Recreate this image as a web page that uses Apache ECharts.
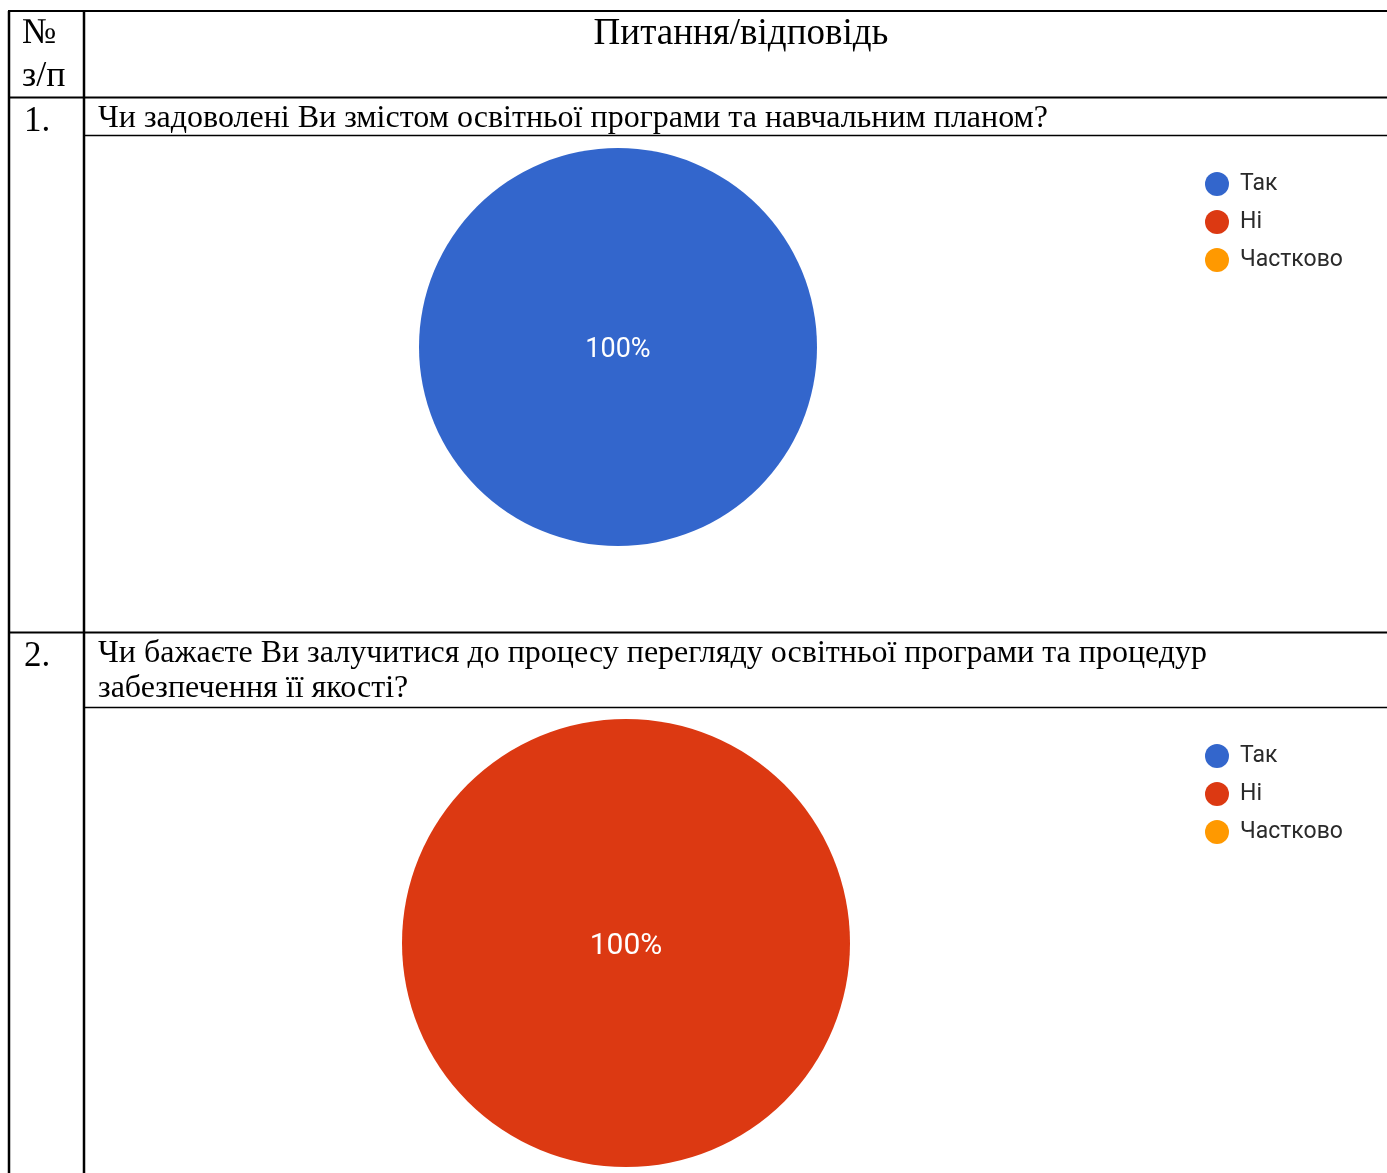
<!DOCTYPE html>
<html>
<head>
<meta charset="utf-8">
<script src="https://cdn.jsdelivr.net/npm/echarts@6/dist/echarts.min.js"></script>
<style>
html,body{margin:0;padding:0;background:#fff;}
#c{width:1387px;height:1173px;}
</style>
</head>
<body>
<div id="c"></div>
<script>
const categories = ['Так', 'Ні', 'Частково'];
const q1Values = [100, 0, 0];
const q2Values = [0, 100, 0];
const palette = ['#3366cc', '#dc3912', '#ff9900'];
const headerNo = ['№', 'з/п'];
const headerTitle = 'Питання/відповідь';
const rowNumbers = ['1.', '2.'];
const q1Lines = ['Чи задоволені Ви змістом освітньої програми та навчальним планом?'];
const q2Lines = ['Чи бажаєте Ви залучитися до процесу перегляду освітньої програми та процедур', 'забезпечення її якості?'];

const chart = echarts.init(document.getElementById('c'), null, {renderer: 'canvas'});

const serif = '"Liberation Serif", "Times New Roman", serif';
const sans = 'Roboto, Arial, sans-serif';

function txt(text, x, y, size, align) {
  return {type: 'text', silent: true, style: {text: text, x: x, y: y, fontSize: size, fontFamily: serif, fill: '#000', textAlign: align || 'left', textVerticalAlign: 'middle'}};
}
function ln(x1, y1, x2, y2, w) {
  return {type: 'line', silent: true, shape: {x1: x1, y1: y1, x2: x2, y2: y2}, style: {stroke: '#000', lineWidth: w}};
}

const graphics = [
  ln(8, 11, 1387, 11, 2),
  ln(9, 11, 9, 1173, 2.5),
  ln(84, 11, 84, 1173, 2.5),
  ln(8, 97.5, 1387, 97.5, 2),
  ln(85, 135.5, 1387, 135.5, 1.5),
  ln(8, 632.5, 1387, 632.5, 2),
  ln(85, 707.5, 1387, 707.5, 1.5),
  txt(headerNo[0], 22, 34, 36),
  txt(headerNo[1], 22, 77, 36),
  txt(headerTitle, 741, 34, 37, 'center'),
  txt(rowNumbers[0], 24, 122, 35),
  txt(q1Lines[0], 98, 119, 32),
  txt(rowNumbers[1], 24, 657, 35),
  txt(q2Lines[0], 98, 654, 32),
  txt(q2Lines[1], 98, 689, 32)
];

function pieData(vals) {
  return categories.map((n, i) => ({name: n, value: vals[i]}));
}
function labelFmt(p) { return p.value > 0 ? Math.round(p.percent) + '%' : ''; }

const legendBase = {
  orient: 'vertical', left: 1200, icon: 'circle', itemWidth: 24, itemHeight: 24, itemGap: 14,
  textStyle: {fontSize: 23, fontFamily: sans, color: '#2a2a2a', padding: [0, 0, 0, 6]},
  data: categories, selectedMode: false
};

chart.setOption({
  animation: false,
  color: palette,
  legend: [
    Object.assign({}, legendBase, {top: 167}),
    Object.assign({}, legendBase, {top: 739})
  ],
  graphic: graphics,
  series: [
    {
      type: 'pie', center: [618, 347], radius: [0, 199], data: pieData(q1Values),
      label: {show: true, position: 'center', formatter: labelFmt, color: '#fff', fontSize: 27, fontFamily: sans, offset: [0, 3]},
      labelLine: {show: false}, emphasis: {disabled: true}, itemStyle: {borderWidth: 0}, silent: true
    },
    {
      type: 'pie', center: [626, 943], radius: [0, 224], data: pieData(q2Values),
      label: {show: true, position: 'center', formatter: labelFmt, color: '#fff', fontSize: 30, fontFamily: sans, offset: [0, 3]},
      labelLine: {show: false}, emphasis: {disabled: true}, itemStyle: {borderWidth: 0}, silent: true
    }
  ]
});
</script>
</body>
</html>
